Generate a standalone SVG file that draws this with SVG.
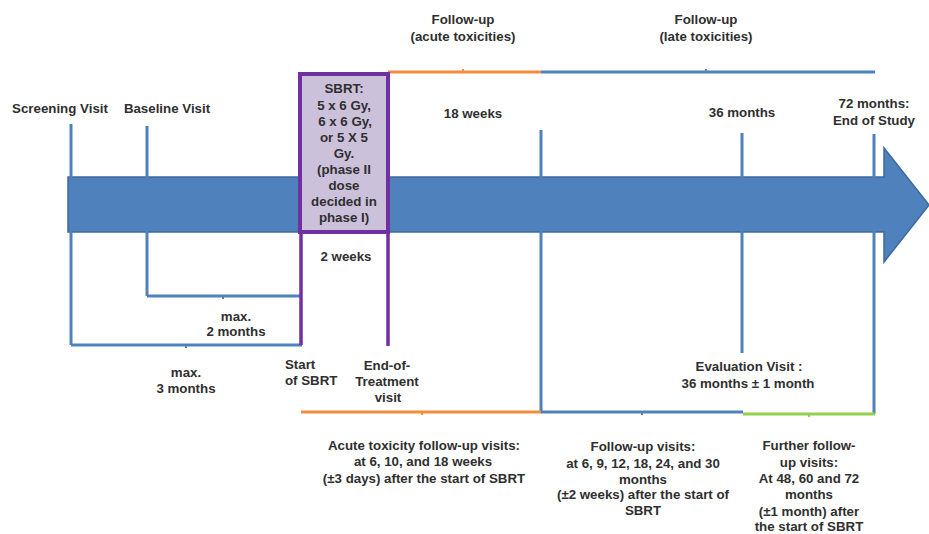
<svg xmlns="http://www.w3.org/2000/svg" width="929" height="534" viewBox="0 0 929 534">
<style>
text{font-family:"Liberation Sans",Arial,sans-serif;font-weight:bold;font-size:13.3px;fill:#2f2f2f;text-anchor:middle}
.b{stroke:#4f81bd;stroke-width:3;fill:none}
.o{stroke:#f68b3c;stroke-width:3;fill:none}
.g{stroke:#92d050;stroke-width:3;fill:none}
.p{stroke:#7030a0;stroke-width:3.5;fill:none}
.tk{stroke-width:2}
</style>
<rect width="929" height="534" fill="#fff"/>
<g id="timeline-arrow">
<path d="M68,177 H884 V148 L929,205 L884,262 V232 H68 Z" fill="#4f81bd" stroke="#3d6a9e" stroke-width="1.5"/>
</g>
<g id="connectors">
<line class="b" x1="71" y1="124" x2="71" y2="345"/>
<line class="b" x1="147" y1="126" x2="147" y2="296"/>
<line class="b" x1="147" y1="296" x2="302" y2="296"/>
<line class="b tk" x1="223" y1="296" x2="223" y2="299"/>
<line class="b" x1="71" y1="345" x2="302" y2="345"/>
<line class="b tk" x1="186" y1="345" x2="186" y2="348"/>
<line class="p" x1="301" y1="232" x2="301" y2="345"/>
<line class="p" x1="388" y1="232" x2="388" y2="346"/>
<line class="o" x1="388" y1="72" x2="541" y2="72"/>
<line class="o tk" x1="463" y1="72" x2="463" y2="69"/>
<line class="b" x1="541" y1="72" x2="875" y2="72"/>
<line class="b tk" x1="706" y1="72" x2="706" y2="69"/>
<line class="b" x1="541" y1="130" x2="541" y2="412"/>
<line class="b" x1="742" y1="133" x2="742" y2="353"/>
<line class="b" x1="874" y1="134" x2="874" y2="414"/>
<line class="o" x1="301" y1="412" x2="541" y2="412"/>
<line class="o tk" x1="422" y1="412" x2="422" y2="415"/>
<line class="b" x1="541" y1="412" x2="743" y2="412"/>
<line class="b tk" x1="642" y1="412" x2="642" y2="415"/>
<line class="g" x1="743" y1="414" x2="875" y2="414"/>
<line class="g tk" x1="809" y1="414" x2="809" y2="417"/>
</g>
<g id="sbrt-box">
<rect x="300" y="74" width="88" height="158" fill="#ccc1da" stroke="#7030a0" stroke-width="4"/>
<text x="344" y="93">SBRT:</text>
<text x="344" y="110">5 x 6 Gy,</text>
<text x="345" y="126">6 x 6 Gy,</text>
<text x="344" y="142">or 5 X 5</text>
<text x="344" y="158">Gy.</text>
<text x="344" y="174">(phase II</text>
<text x="344" y="190">dose</text>
<text x="344" y="206">decided in</text>
<text x="344" y="222">phase I)</text>
</g>
<g id="screening"><text x="60" y="113">Screening Visit</text></g>
<g id="baseline"><text x="167" y="113">Baseline Visit</text></g>
<g id="followup-acute"><text x="463" y="24">Follow-up</text><text x="463" y="41">(acute toxicities)</text></g>
<g id="followup-late"><text x="706" y="24">Follow-up</text><text x="706" y="41">(late toxicities)</text></g>
<g id="w18"><text x="473" y="118">18 weeks</text></g>
<g id="m36"><text x="742" y="117">36 months</text></g>
<g id="m72"><text x="874" y="108">72 months:</text><text x="874" y="125">End of Study</text></g>
<g id="w2"><text x="346" y="261">2 weeks</text></g>
<g id="max2"><text x="236" y="321">max.</text><text x="236" y="336">2 months</text></g>
<g id="max3"><text x="186" y="377">max.</text><text x="186" y="393">3 months</text></g>
<g id="start"><text x="285" y="369" style="text-anchor:start">Start</text><text x="285" y="385" style="text-anchor:start">of SBRT</text></g>
<g id="eot"><text x="387" y="370">End-of-</text><text x="387" y="386">Treatment</text><text x="388" y="402">visit</text></g>
<g id="eval"><text x="749" y="371">Evaluation Visit :</text><text x="748" y="388">36 months ± 1 month</text></g>
<g id="acute-visits"><text x="424" y="450">Acute toxicity follow-up visits:</text><text x="423" y="466">at 6, 10, and 18 weeks</text><text x="424" y="483">(±3 days) after the start of SBRT</text></g>
<g id="fu-visits"><text x="643" y="451">Follow-up visits:</text><text x="643" y="468">at 6, 9, 12, 18, 24, and 30</text><text x="643" y="484">months</text><text x="643" y="499">(±2 weeks) after the start of</text><text x="643" y="515">SBRT</text></g>
<g id="further-visits"><text x="809" y="450">Further follow-</text><text x="809" y="467">up visits:</text><text x="809" y="483">At 48, 60 and 72</text><text x="809" y="499">months</text><text x="809" y="516">(±1 month) after</text><text x="809" y="531">the start of SBRT</text></g>
</svg>
